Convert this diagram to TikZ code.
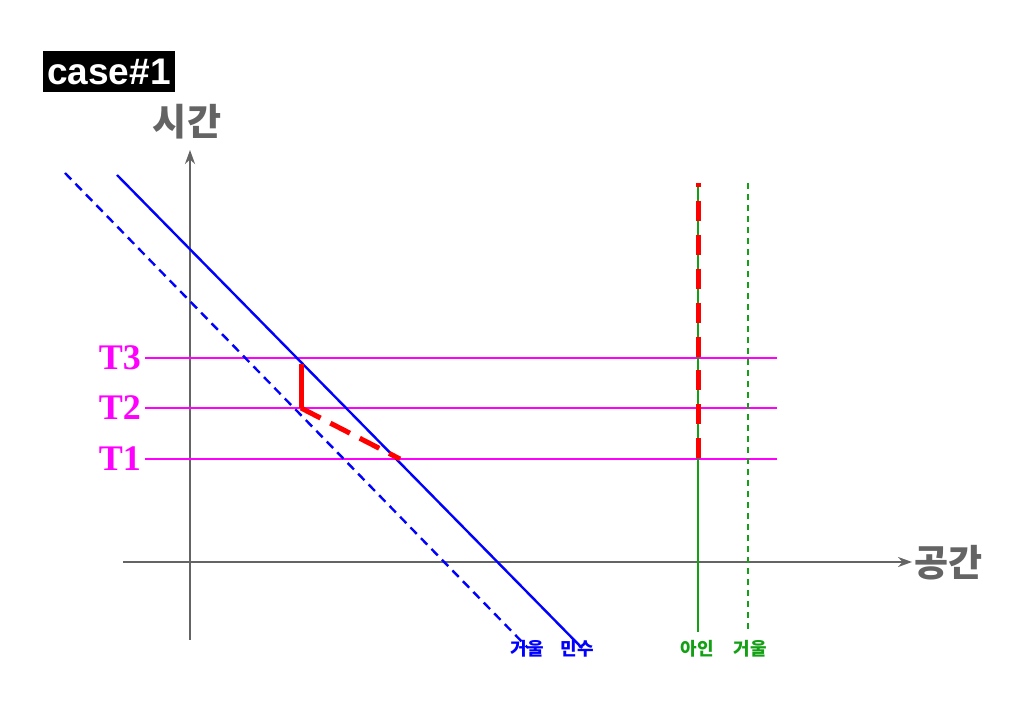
\documentclass[tikz,border=0pt]{standalone}
\usepackage{fontspec}
\usetikzlibrary{arrows.meta}
\setmainfont{Liberation Serif}
\newfontfamily\krfont{Noto Sans CJK KR}
\newfontfamily\casefont{Liberation Sans}
\definecolor{axisgray}{RGB}{100,100,100}
\definecolor{mirgreen}{RGB}{20,160,20}
\definecolor{tmag}{RGB}{255,0,255}
\definecolor{wblue}{RGB}{0,0,255}
\definecolor{lred}{RGB}{255,0,0}

\begin{document}
\begin{tikzpicture}[x=1pt,y=-1pt,>={Stealth[length=14pt,width=10pt]},
  axis/.style={draw=axisgray,line width=2.8pt},
  tline/.style={draw=tmag,line width=2pt},
  tlabel/.style={text=tmag,font=\fontsize{36}{36}\selectfont\bfseries,anchor=east,inner sep=0pt},
  world/.style={draw=wblue,line width=2.4pt},
  mirror/.style={world,dash pattern=on 9pt off 6pt},
  lightpath/.style={draw=lred,line width=5pt},
  axlabel/.style={text=axisgray,font=\krfont\fontsize{37}{37}\selectfont\bfseries,inner sep=0pt},
  whoname/.style={font=\krfont\fontsize{18}{18}\selectfont\bfseries,inner sep=0pt}]
\useasboundingbox (0,0) rectangle (1024,708);
% title
\node[fill=black,text=white,font=\casefont\fontsize{37}{37}\selectfont\bfseries,minimum width=132pt,minimum height=41pt,inner sep=0pt] (title) at (109,72) {case\#1};
% axes
\coordinate (tbot) at (190,640);
\coordinate (ttop) at (190,150);
\coordinate (sleft) at (123,562);
\coordinate (sright) at (912,562);
\draw[axis,->] (tbot)--(ttop);
\draw[axis,->] (sleft)--(sright);
\node[axlabel] (time) at (187,122) {시간};
\node[axlabel,anchor=west] (space) at (914,563) {공간};
% time slices
\foreach \t/\y in {3/358,2/408,1/459}{
  \node[tlabel] (T\t) at (141,\y) {T\t};
  \coordinate (E\t) at (777,\y);
  \draw[tline] (T\t.east)++(4,0)--(E\t);
}
% world lines
\coordinate (mtop) at (117,175);
\coordinate (mbot) at (582,648);
\coordinate (rtop) at (65,173);
\coordinate (rbot) at (528,648);
\draw[world] (mtop)--(mbot);
\draw[mirror] (rtop)--(rbot);
\coordinate (atop) at (698,183);
\coordinate (abot) at (698,632);
\coordinate (gtop) at (748,183);
\coordinate (gbot) at (748,632);
\draw[draw=mirgreen,line width=2pt] (atop)--(abot);
\draw[draw=mirgreen,line width=2pt,dash pattern=on 6pt off 5pt] (gtop)--(gbot);
% light paths
\coordinate (p3) at (301,358);
\coordinate (p2) at (301,408);
\coordinate (p1) at (400,459);
\coordinate (a1) at (698,459);
\draw[lightpath,dash pattern=on 44pt off 20pt,dash phase=58pt] (p3)--(p2);
\draw[lightpath,dash pattern=on 22pt off 11pt] (p2)--(p1);
\draw[lightpath,dash pattern=on 20pt off 13.9pt,dash phase=16pt] (atop)--(a1);
% names
\node[whoname,text=wblue] (mirA) at (527,649) {거울};
\node[whoname,text=wblue] (minsu) at (577,649) {민수};
\node[whoname,text=mirgreen] (ain) at (697,649) {아인};
\node[whoname,text=mirgreen] (mirB) at (750,649) {거울};
\end{tikzpicture}
\end{document}
